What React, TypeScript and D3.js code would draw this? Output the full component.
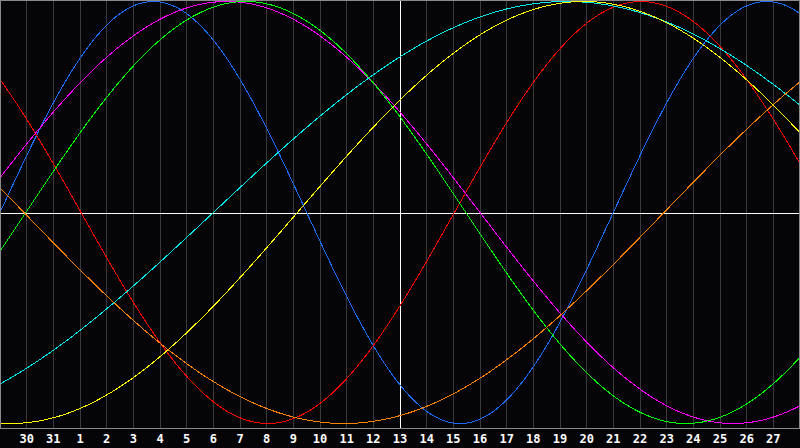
import React from "react";
import * as d3 from "d3";

const dayLabels = ["30","31","1","2","3","4","5","6","7","8","9","10","11","12","13","14","15","16","17","18","19","20","21","22","23","24","25","26","27"];
const todayIndex = 15; // position of "13"

const cycleNames = ["Physical","Emotional","Intuitive","Intellectual","Spiritual","Aesthetic","Awareness"];
const cyclePeriods = [23, 28, 38, 33, 53, 43, 48];
const cyclePeakDays = [5.75, 24.04, 8.5, 9.22, 21.25, 21.9, -11.1];
const cycleColors = ["#1a6cff", "#ff0000", "#ff00ff", "#00ff00", "#00e8e8", "#ffff00", "#ff8000"];

const W = 800;
const H = 448;
const PLOT_B = 428;
const SPAN = 30;

export default function App() {
  const x = d3.scaleLinear().domain([0, SPAN]).range([0, W]);
  const y = d3.scaleLinear().domain([-1, 1]).range([423.5, 1.5]);
  const samples = d3.range(0, W + 1, 1).map((px) => x.invert(px));

  const line = d3
    .line<number>()
    .x((d) => x(d))
    .y((d) => d);

  const paths = cycleNames.map((name, i) => {
    const P = cyclePeriods[i];
    const peak = cyclePeakDays[i];
    const gen = d3
      .line<number>()
      .x((d) => x(d))
      .y((d) => y(Math.cos((2 * Math.PI * (d - peak)) / P)));
    return { name, color: cycleColors[i], d: gen(samples) || "" };
  });
  void line;

  const gridIdx = d3.range(1, SPAN);

  return (
    <svg
      width={W}
      height={H}
      style={{ position: "fixed", left: 0, top: 0, background: "#050507", display: "block" }}
    >
      <rect x={0} y={0} width={W} height={H} fill="#050507" />
      {gridIdx.map((i) => (
        <line
          key={"g" + i}
          x1={Math.floor(x(i)) + 0.5}
          x2={Math.floor(x(i)) + 0.5}
          y1={0}
          y2={PLOT_B}
          stroke="#3a3a3a"
          strokeWidth={1}
          shapeRendering="crispEdges"
        />
      ))}
      <line x1={0} x2={W} y1={213.5} y2={213.5} stroke="#ffffff" strokeWidth={1} shapeRendering="crispEdges" />
      <line
        x1={Math.floor(x(todayIndex)) + 0.5}
        x2={Math.floor(x(todayIndex)) + 0.5}
        y1={0}
        y2={PLOT_B}
        stroke="#ffffff"
        strokeWidth={1}
        shapeRendering="crispEdges"
      />
      {paths.map((p) => (
        <path key={p.name} d={p.d} fill="none" stroke={p.color} strokeWidth={1} shapeRendering="crispEdges" />
      ))}
      <rect x={0.5} y={0.5} width={W - 1} height={PLOT_B} fill="none" stroke="#8a8a8a" strokeWidth={1} shapeRendering="crispEdges" />
      {dayLabels.map((lab, i) => (
        <text
          key={"t" + i}
          x={x(i + 1)}
          y={443}
          textAnchor="middle"
          fill="#ffffff"
          fontFamily="'DejaVu Sans Mono', monospace"
          fontWeight="bold"
          fontSize={12}
        >
          {lab}
        </text>
      ))}
    </svg>
  );
}
